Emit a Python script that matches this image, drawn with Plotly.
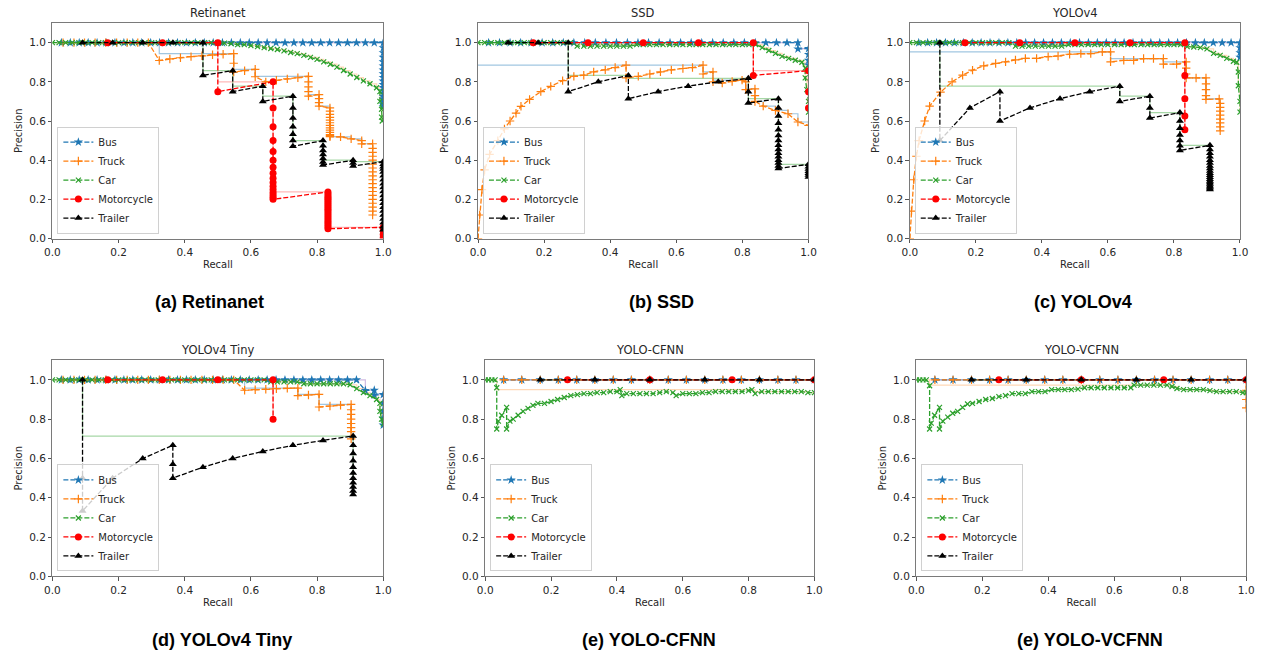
import plotly.graph_objects as go

W, H = 1271, 660

CLASSES = ["Bus", "Truck", "Car", "Motorcycle", "Trailer"]

# ---------------- shared recall grids ----------------
BUS_R37 = [0.027, 0.054, 0.081, 0.108, 0.135, 0.162, 0.189, 0.216, 0.243, 0.270,
           0.297, 0.324, 0.351, 0.378, 0.405, 0.432, 0.459, 0.486, 0.514, 0.541,
           0.568, 0.595, 0.622, 0.649, 0.676, 0.703, 0.730, 0.757, 0.784, 0.811,
           0.838, 0.865, 0.892, 0.919, 0.946, 0.973, 1.0]
R31 = [0.032, 0.065, 0.097, 0.129, 0.161, 0.194, 0.226, 0.258, 0.290, 0.323,
       0.355, 0.387, 0.419, 0.452, 0.484, 0.516, 0.548, 0.581, 0.613, 0.645,
       0.677, 0.710, 0.742, 0.774, 0.806, 0.839, 0.871, 0.903, 0.935, 0.968, 1.0]
BUS_R18 = [0.056, 0.111, 0.167, 0.222, 0.278, 0.333, 0.389, 0.444, 0.5, 0.556,
           0.611, 0.667, 0.722, 0.778, 0.833, 0.889, 0.944, 1.0]
CAR_R50 = [0.0, 0.02, 0.04, 0.06, 0.08, 0.1, 0.12, 0.14, 0.16, 0.18, 0.2, 0.22, 0.24,
           0.26, 0.28, 0.3, 0.32, 0.34, 0.36, 0.38, 0.4, 0.42, 0.44, 0.46, 0.48, 0.5,
           0.52, 0.54, 0.56, 0.58, 0.6, 0.62, 0.64, 0.66, 0.68, 0.7, 0.72, 0.74, 0.76,
           0.78, 0.8, 0.82, 0.84, 0.86, 0.88, 0.9, 0.92, 0.94, 0.96, 0.98]

# ---------------- (a) Retinanet ----------------
A_BUS_R = BUS_R37 + [1.0] * 18
A_BUS_P = [1.0] * 37 + [0.974, 0.949, 0.925, 0.902, 0.881, 0.86, 0.841, 0.822, 0.804,
                        0.787, 0.771, 0.755, 0.74, 0.725, 0.712, 0.698, 0.685, 0.673]
A_TRUCK_R = [0.032, 0.065, 0.097, 0.129, 0.161, 0.194, 0.226, 0.258, 0.290,
             0.323, 0.355, 0.387, 0.419, 0.452, 0.484, 0.516, 0.548,
             0.548, 0.548, 0.581, 0.613, 0.613,
             0.645, 0.677, 0.71, 0.742, 0.774,
             0.774, 0.774, 0.774, 0.774, 0.806,
             0.806, 0.806, 0.806, 0.839, 0.839, 0.839, 0.839, 0.839, 0.839, 0.839,
             0.839, 0.839, 0.839, 0.839, 0.839, 0.839,
             0.871, 0.903, 0.935, 0.935] + [0.968] * 19
A_TRUCK_P = [1.0, 1.0, 1.0, 1.0, 1.0, 1.0, 1.0, 1.0, 1.0,
             0.909, 0.917, 0.923, 0.929, 0.933, 0.938, 0.941, 0.944,
             0.895, 0.85, 0.857, 0.864, 0.826,
             0.8, 0.808, 0.815, 0.821, 0.828,
             0.8, 0.774, 0.75, 0.727, 0.735,
             0.714, 0.694, 0.676, 0.667, 0.65, 0.634, 0.619, 0.605, 0.591, 0.578,
             0.565, 0.553, 0.542, 0.531, 0.525, 0.52,
             0.519, 0.509, 0.5, 0.483,
             0.484, 0.46, 0.44, 0.42, 0.40, 0.38, 0.36, 0.34, 0.32, 0.30, 0.28, 0.26,
             0.24, 0.22, 0.20, 0.18, 0.16, 0.14, 0.12]
A_CAR_R = CAR_R50 + [0.99, 0.99, 0.995, 0.995, 0.997]
A_CAR_P = [1.0] * 26 + [0.998, 0.995, 0.99, 0.99, 0.985, 0.98, 0.975, 0.97, 0.965, 0.958,
                        0.95, 0.944, 0.935, 0.925, 0.915, 0.902, 0.89, 0.875, 0.858, 0.84,
                        0.822, 0.805, 0.79, 0.77] + [0.75, 0.7, 0.66, 0.62, 0.6]
A_MOTO_R = [0.167, 0.333, 0.5, 0.5] + [0.667] * 16 + [0.833] * 20 + [1.0] * 4
A_MOTO_P = [1.0, 1.0, 1.0, 0.75,
            0.8, 0.667, 0.571, 0.5, 0.444, 0.4, 0.364, 0.333, 0.308, 0.286, 0.267, 0.25,
            0.235, 0.222, 0.211, 0.2,
            0.238, 0.227, 0.217, 0.208, 0.2, 0.19, 0.18, 0.17, 0.16, 0.15, 0.14, 0.13,
            0.12, 0.11, 0.1, 0.09, 0.08, 0.07, 0.06, 0.05,
            0.057, 0.04, 0.02, 0.005]
A_TRAIL_R = [0.091, 0.182, 0.273, 0.364, 0.455, 0.455, 0.545, 0.545, 0.636, 0.636] + \
            [0.727] * 7 + [0.818] * 7 + [0.909] * 3 + [1.0] * 20
A_TRAIL_P = [1.0, 1.0, 1.0, 1.0, 1.0, 0.833, 0.857, 0.75, 0.778, 0.7,
             0.727, 0.667, 0.615, 0.571, 0.533, 0.5, 0.471,
             0.5, 0.474, 0.45, 0.429, 0.409, 0.391, 0.375,
             0.4, 0.385, 0.37,
             0.393, 0.379, 0.367, 0.355, 0.34, 0.32, 0.3, 0.28, 0.26, 0.24, 0.22, 0.2,
             0.18, 0.16, 0.14, 0.12, 0.1, 0.08, 0.06, 0.045]

# ---------------- (b) SSD ----------------
B_BUS_R = R31[:29] + [0.968, 0.968, 1.0, 1.0, 1.0, 1.0]
B_BUS_P = [1.0] * 29 + [1.0, 0.968, 0.97, 0.94, 0.91, 0.886]
B_TRUCK_R = [0.0, 0.005, 0.012, 0.02, 0.035, 0.06, 0.08, 0.097, 0.115, 0.13,
             0.156, 0.19, 0.22, 0.256, 0.29, 0.32, 0.35, 0.385, 0.415, 0.448,
             0.448, 0.485, 0.52, 0.552, 0.585, 0.62, 0.649, 0.681, 0.681, 0.711,
             0.711, 0.739, 0.769, 0.799, 0.81, 0.81, 0.838, 0.838, 0.838, 0.863,
             0.9, 0.938, 0.968, 1.0]
B_TRUCK_P = [0.0, 0.12, 0.25, 0.35, 0.43, 0.5, 0.56, 0.6, 0.64, 0.675,
             0.71, 0.75, 0.777, 0.806, 0.828, 0.834, 0.851, 0.861, 0.873, 0.885,
             0.82, 0.828, 0.84, 0.851, 0.861, 0.868, 0.873, 0.885, 0.84, 0.851,
             0.8, 0.794, 0.802, 0.809, 0.8, 0.76, 0.764, 0.73, 0.7, 0.676,
             0.654, 0.637, 0.595, 0.578]
B_CAR_R = CAR_R50 + [0.99, 0.99, 0.995, 1.0, 1.0]
B_CAR_P = [1.0] * 15 + [0.982] * 9 + [0.99] * 18 + \
          [0.99, 0.975, 0.96, 0.945, 0.93, 0.92, 0.91, 0.9] + [0.87, 0.82, 0.76, 0.7, 0.645]
B_MOTO_R = [0.167, 0.333, 0.5, 0.667, 0.833, 0.833, 1.0, 1.0, 1.0]
B_MOTO_P = [1.0, 1.0, 1.0, 1.0, 1.0, 0.833, 0.857, 0.75, 0.667]
B_TRAIL_R = [0.091, 0.182, 0.273, 0.273, 0.364, 0.455, 0.455, 0.545, 0.636, 0.727,
             0.818, 0.818, 0.818] + [0.909] * 15 + [1.0] * 7
B_TRAIL_P = [1.0, 1.0, 1.0, 0.75, 0.8, 0.833, 0.714, 0.75, 0.778, 0.8, 0.818, 0.75, 0.692,
             0.714, 0.667, 0.625, 0.588, 0.556, 0.526, 0.5, 0.476, 0.455, 0.435, 0.417,
             0.4, 0.385, 0.37, 0.357,
             0.379, 0.367, 0.355, 0.344, 0.333, 0.324, 0.314]

# ---------------- (c) YOLOv4 ----------------
C_BUS_R = BUS_R37 + [1.0] * 3
C_BUS_P = [1.0] * 37 + [0.974, 0.949, 0.925]
C_TRUCK_R = [0.0, 0.005, 0.012, 0.02, 0.028, 0.045, 0.06, 0.093, 0.128, 0.16,
             0.19, 0.224, 0.26, 0.29, 0.32, 0.35, 0.384, 0.419, 0.449, 0.484,
             0.518, 0.548, 0.583, 0.608, 0.608, 0.648, 0.678, 0.708, 0.738, 0.768,
             0.768, 0.808, 0.837, 0.837, 0.837, 0.837, 0.867, 0.897, 0.897, 0.897,
             0.897, 0.897, 0.937] + [0.94] * 8
C_TRUCK_P = [0.0, 0.14, 0.3, 0.42, 0.5, 0.6, 0.676, 0.747, 0.8, 0.834,
             0.86, 0.882, 0.894, 0.902, 0.912, 0.92, 0.92, 0.929, 0.932, 0.941,
             0.944, 0.944, 0.953, 0.953, 0.902, 0.91, 0.91, 0.919, 0.919, 0.919,
             0.89, 0.89, 0.902, 0.87, 0.84, 0.82, 0.82, 0.82, 0.79, 0.76,
             0.73, 0.71, 0.713, 0.69, 0.67, 0.65, 0.63, 0.61, 0.59, 0.57, 0.55]
C_CAR_R = CAR_R50 + [0.99, 0.995, 0.995, 1.0, 1.0]
C_CAR_P = [1.0] * 16 + [0.982] * 8 + [0.99] * 18 + \
          [0.98, 0.978, 0.975, 0.968, 0.945, 0.935, 0.92, 0.905] + [0.9, 0.85, 0.78, 0.7, 0.645]
C_MOTO_R = [0.167, 0.333, 0.5, 0.667, 0.833, 0.833, 0.833, 0.833, 0.833]
C_MOTO_P = [1.0, 1.0, 1.0, 1.0, 1.0, 0.833, 0.714, 0.625, 0.556]
C_TRAIL_R = [0.091, 0.091, 0.182, 0.273, 0.273, 0.364, 0.455, 0.545, 0.636, 0.636,
             0.727, 0.727, 0.727] + [0.818] * 7 + [0.909] * 20
C_TRAIL_P = [1.0, 0.5, 0.667, 0.75, 0.6, 0.667, 0.714, 0.75, 0.778, 0.7, 0.727, 0.667, 0.615,
             0.643, 0.6, 0.563, 0.529, 0.5, 0.474, 0.45,
             0.476, 0.455, 0.435, 0.417, 0.4, 0.385, 0.37, 0.357, 0.345, 0.333, 0.323,
             0.313, 0.303, 0.294, 0.286, 0.278, 0.27, 0.263, 0.256, 0.25]

# ---------------- (d) YOLOv4 Tiny ----------------
D_BUS_R = BUS_R37[:34] + [0.946, 0.973, 0.973, 1.0, 1.0, 1.0, 1.0, 1.0]
D_BUS_P = [1.0] * 34 + [0.946, 0.947, 0.923, 0.925, 0.881, 0.841, 0.804, 0.77]
D_TRUCK_R = R31[:17] + [0.581, 0.613, 0.645, 0.677, 0.71, 0.742, 0.742, 0.774, 0.806, 0.806,
                        0.839, 0.871, 0.903] + [0.903] * 7
D_TRUCK_P = [1.0] * 17 + [0.947, 0.95, 0.952, 0.955, 0.957, 0.958, 0.92, 0.923, 0.926, 0.862,
                          0.867, 0.871, 0.875] + [0.848, 0.824, 0.8, 0.778, 0.757, 0.737, 0.7]
D_CAR_R = CAR_R50 + [0.99, 0.99, 0.995, 1.0]
D_CAR_P = [1.0] * 33 + [0.99] * 5 + [0.98] * 7 + [0.975, 0.955, 0.935, 0.92, 0.9] + \
          [0.88, 0.84, 0.8, 0.776]
D_MOTO_R = [0.167, 0.333, 0.5, 0.667, 0.667]
D_MOTO_P = [1.0, 1.0, 1.0, 1.0, 0.8]
D_TRAIL_R = [0.091, 0.091, 0.091, 0.182, 0.273, 0.364, 0.364, 0.364, 0.455, 0.545, 0.636,
             0.727, 0.818] + [0.909] * 11
D_TRAIL_P = [1.0, 0.5, 0.333, 0.5, 0.6, 0.667, 0.571, 0.5, 0.556, 0.6, 0.636, 0.667, 0.692,
             0.714, 0.667, 0.625, 0.588, 0.556, 0.526, 0.5, 0.476, 0.455, 0.435, 0.417]

# ---------------- (e) YOLO-CFNN ----------------
E_BUS_R = BUS_R18
E_BUS_P = [1.0] * 18
E_TRUCK_R = BUS_R18
E_TRUCK_P = [1.0] * 18
E_CAR_R = [0.0, 0.01, 0.02, 0.03, 0.035, 0.035, 0.04, 0.05, 0.065, 0.065,
           0.075, 0.085, 0.1, 0.115, 0.13, 0.145, 0.16, 0.18, 0.2, 0.22,
           0.24, 0.26, 0.28, 0.3, 0.32, 0.34, 0.36, 0.38, 0.4, 0.41,
           0.415, 0.43, 0.45, 0.47, 0.49, 0.51, 0.53, 0.55, 0.57, 0.58,
           0.6, 0.62, 0.64, 0.66, 0.68, 0.7, 0.72, 0.74, 0.76, 0.78,
           0.8, 0.81, 0.82, 0.84, 0.86, 0.88, 0.9, 0.92, 0.94, 0.96, 0.98, 1.0]
E_CAR_P = [1.0, 1.0, 1.0, 1.0, 0.96, 0.75, 0.79, 0.82, 0.86, 0.75,
           0.79, 0.8, 0.82, 0.84, 0.855, 0.87, 0.88, 0.88, 0.89, 0.9,
           0.91, 0.92, 0.925, 0.93, 0.93, 0.935, 0.935, 0.94, 0.94, 0.95,
           0.92, 0.93, 0.93, 0.93, 0.93, 0.93, 0.935, 0.94, 0.935, 0.92,
           0.93, 0.93, 0.93, 0.935, 0.935, 0.94, 0.94, 0.94, 0.94, 0.94,
           0.945, 0.95, 0.93, 0.94, 0.94, 0.94, 0.94, 0.94, 0.94, 0.94, 0.935, 0.935]
E_MOTO_R = [0.25, 0.5, 0.75, 1.0]
E_MOTO_P = [1.0, 1.0, 1.0, 1.0]
E_TRAIL_R = [0.167, 0.333, 0.5, 0.667, 0.833, 1.0]
E_TRAIL_P = [1.0, 1.0, 1.0, 1.0, 1.0, 1.0]

# ---------------- (f) YOLO-VCFNN ----------------
F_BUS_R = BUS_R18
F_BUS_P = [1.0] * 18
F_TRUCK_R = BUS_R18 + [1.0, 1.0, 1.0]
F_TRUCK_P = [1.0] * 18 + [0.947, 0.9, 0.857]
F_CAR_R = [0.0, 0.01, 0.02, 0.03, 0.04, 0.04, 0.045, 0.055, 0.07, 0.07,
           0.08, 0.095, 0.11, 0.125, 0.14, 0.155, 0.17, 0.19, 0.21, 0.23,
           0.25, 0.27, 0.29, 0.31, 0.33, 0.35, 0.37, 0.39, 0.41, 0.43,
           0.45, 0.47, 0.49, 0.51, 0.53, 0.55, 0.57, 0.59, 0.61, 0.63,
           0.65, 0.66, 0.68, 0.7, 0.72, 0.74, 0.76, 0.775, 0.79, 0.81,
           0.83, 0.85, 0.87, 0.89, 0.91, 0.93, 0.95, 0.97, 0.99, 1.0]
F_CAR_P = [1.0, 1.0, 1.0, 1.0, 0.97, 0.75, 0.78, 0.82, 0.86, 0.75,
           0.79, 0.81, 0.83, 0.84, 0.86, 0.877, 0.88, 0.89, 0.9, 0.905,
           0.915, 0.92, 0.93, 0.93, 0.93, 0.94, 0.94, 0.94, 0.95, 0.95,
           0.95, 0.95, 0.953, 0.96, 0.96, 0.96, 0.96, 0.96, 0.96, 0.96,
           0.96, 0.973, 0.973, 0.973, 0.973, 0.973, 0.973, 0.966, 0.956, 0.95,
           0.95, 0.95, 0.95, 0.945, 0.94, 0.94, 0.94, 0.94, 0.935, 0.935]
F_MOTO_R = [0.25, 0.5, 0.75, 1.0]
F_MOTO_P = [1.0, 1.0, 1.0, 1.0]
F_TRAIL_R = [0.167, 0.333, 0.5, 0.667, 0.833, 1.0]
F_TRAIL_P = [1.0, 1.0, 1.0, 1.0, 1.0, 1.0]

TITLES = ["Retinanet", "SSD", "YOLOv4", "YOLOv4 Tiny", "YOLO-CFNN", "YOLO-VCFNN"]
CAPTIONS = ["(a) Retinanet", "(b) SSD", "(c) YOLOv4", "(d) YOLOv4 Tiny",
            "(e) YOLO-CFNN", "(e) YOLO-VCFNN"]
TICK_VALS = [0.0, 0.2, 0.4, 0.6, 0.8, 1.0]
TICK_TEXT = ["0.0", "0.2", "0.4", "0.6", "0.8", "1.0"]

PANELS = [
    [(A_BUS_R, A_BUS_P), (A_TRUCK_R, A_TRUCK_P), (A_CAR_R, A_CAR_P), (A_MOTO_R, A_MOTO_P), (A_TRAIL_R, A_TRAIL_P)],
    [(B_BUS_R, B_BUS_P), (B_TRUCK_R, B_TRUCK_P), (B_CAR_R, B_CAR_P), (B_MOTO_R, B_MOTO_P), (B_TRAIL_R, B_TRAIL_P)],
    [(C_BUS_R, C_BUS_P), (C_TRUCK_R, C_TRUCK_P), (C_CAR_R, C_CAR_P), (C_MOTO_R, C_MOTO_P), (C_TRAIL_R, C_TRAIL_P)],
    [(D_BUS_R, D_BUS_P), (D_TRUCK_R, D_TRUCK_P), (D_CAR_R, D_CAR_P), (D_MOTO_R, D_MOTO_P), (D_TRAIL_R, D_TRAIL_P)],
    [(E_BUS_R, E_BUS_P), (E_TRUCK_R, E_TRUCK_P), (E_CAR_R, E_CAR_P), (E_MOTO_R, E_MOTO_P), (E_TRAIL_R, E_TRAIL_P)],
    [(F_BUS_R, F_BUS_P), (F_TRUCK_R, F_TRUCK_P), (F_CAR_R, F_CAR_P), (F_MOTO_R, F_MOTO_P), (F_TRAIL_R, F_TRAIL_P)],
]

# ---------------- styling ----------------
STYLE = {
    "Bus": dict(color="#1f77b4", symbol="star", size=7, lw=0),
    "Truck": dict(color="#ff7f0e", symbol="cross-thin", size=6, lw=1.2),
    "Car": dict(color="#2ca02c", symbol="x-thin", size=5, lw=1.2),
    "Motorcycle": dict(color="#ff0000", symbol="circle", size=7, lw=0),
    "Trailer": dict(color="#000000", symbol="triangle-up", size=7, lw=0),
}
ENV_COLOR = {
    "Bus": "rgba(148,103,189,0.45)",
    "Truck": "rgba(31,119,180,0.42)",
    "Car": "rgba(255,127,14,0.3)",
    "Motorcycle": "rgba(255,0,0,0.28)",
    "Trailer": "rgba(44,160,44,0.42)",
}

# panel pixel boxes (left, right) and rows (top, bottom)
XPX = [(45, 380), (476, 810.7), (913.3, 1247.7), (45, 380), (483.3, 816.7), (920, 1254)]
YPX = [(23.3, 240.7), (23.3, 240.7), (23.3, 240.7), (363.5, 581.7), (363.5, 581.7), (363.5, 581.7)]
CAP_POS = [(204, 305), (662, 305), (1089, 305), (217, 646), (649, 646), (1096, 646)]


def envelope(p):
    out, m = [], 0.0
    for v in reversed(p):
        m = max(m, v)
        out.append(m)
    return out[::-1]


fig = go.Figure()
layout = dict(width=W, height=H, margin=dict(l=0, r=0, t=0, b=0),
              paper_bgcolor="white", plot_bgcolor="white", showlegend=True,
              annotations=[])

TICK_FONT = dict(family="DejaVu Sans", size=10.5, color="#262626")
AX_FONT = dict(family="DejaVu Sans", size=10, color="#262626")

for i in range(6):
    n = "" if i == 0 else str(i + 1)
    xa, ya = "x" + n, "y" + n
    lg = "legend" + n
    # interpolated-precision envelopes first
    for cls, (r, p) in zip(CLASSES, PANELS[i]):
        fig.add_trace(go.Scatter(x=r, y=envelope(p), mode="lines", line_shape="hv",
                                 line=dict(color=ENV_COLOR[cls], width=1.2),
                                 showlegend=False, hoverinfo="skip",
                                 xaxis=xa, yaxis=ya))
    for cls, (r, p) in zip(CLASSES, PANELS[i]):
        st = STYLE[cls]
        mk = dict(symbol=st["symbol"], size=st["size"], color=st["color"])
        if st["lw"]:
            mk["line"] = dict(color=st["color"], width=st["lw"])
        else:
            mk["line"] = dict(width=0)
        fig.add_trace(go.Scatter(x=r, y=p, mode="lines+markers", name=cls,
                                 line=dict(color=st["color"], width=1.3, dash="5px,2px"),
                                 marker=mk, xaxis=xa, yaxis=ya, legend=lg))
    x0, x1 = XPX[i]
    yt, yb = YPX[i]
    common = dict(tickvals=TICK_VALS, ticktext=TICK_TEXT,
                  ticks="outside", ticklen=3.5, tickcolor="#555",
                  showline=True, mirror=True, linecolor="#7a7a7a", linewidth=1,
                  showgrid=False, zeroline=False, tickfont=TICK_FONT)
    layout["xaxis" + n] = dict(domain=[x0 / W, x1 / W], range=[0, 1], anchor=ya,
                               title=dict(text="Recall", font=AX_FONT, standoff=4), **common)
    layout["yaxis" + n] = dict(domain=[1 - yb / H, 1 - yt / H], range=[0, 1.1], anchor=xa,
                               title=dict(text="Precision", font=AX_FONT, standoff=4), **common)
    layout[lg] = dict(x=(x0 + 5) / W, y=1 - (yb - 5) / H, xanchor="left", yanchor="bottom",
                      bgcolor="rgba(255,255,255,0.8)", bordercolor="#d0d0d0", borderwidth=1,
                      font=dict(family="DejaVu Sans", size=10, color="#262626"),
                      itemwidth=30, traceorder="normal", tracegroupgap=0)
    layout["annotations"].append(dict(text=TITLES[i], x=(x0 + x1) / 2 / W, y=1 - (yt - 10) / H,
                                      xref="paper", yref="paper", showarrow=False,
                                      xanchor="center", yanchor="middle",
                                      font=dict(family="DejaVu Sans", size=11.5, color="#262626")))
    cx, cy = CAP_POS[i]
    layout["annotations"].append(dict(text="<b>" + CAPTIONS[i] + "</b>", x=cx / W, y=1 - cy / H,
                                      xref="paper", yref="paper", showarrow=False,
                                      xanchor="center", yanchor="middle",
                                      font=dict(family="Liberation Sans", size=18, color="#000")))

fig.update_layout(**layout)
fig.write_html("out.html", config={"displayModeBar": False},
               post_script="document.body.style.margin='0';")
